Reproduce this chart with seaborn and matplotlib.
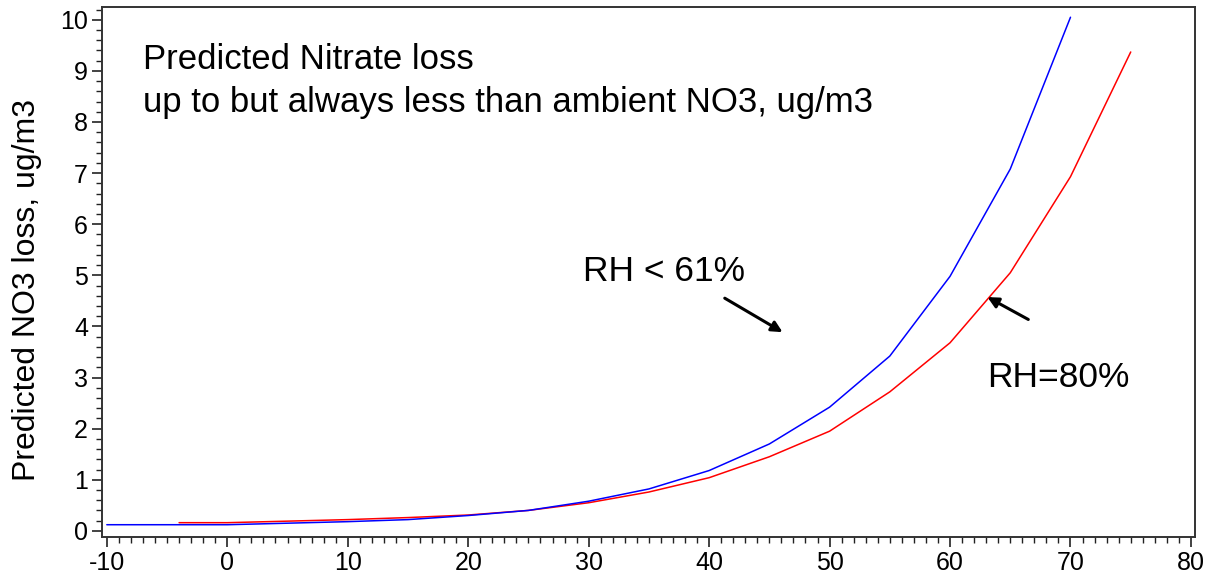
import numpy as np
import pandas as pd
import seaborn as sns
import matplotlib.pyplot as plt
from matplotlib.ticker import MultipleLocator

# Curve values
temp_low = [-10, -5, 0, 5, 10, 15, 20, 25, 30, 35, 40, 45, 50, 55, 60, 65, 70]
loss_low = [0.12, 0.12, 0.12, 0.15, 0.18, 0.22, 0.30, 0.40, 0.58, 0.82, 1.18,
            1.70, 2.42, 3.42, 4.98, 7.08, 10.05]

temp_high = [-4, 0, 5, 10, 15, 20, 25, 30, 35, 40, 45, 50, 55, 60, 65, 70, 75]
loss_high = [0.16, 0.16, 0.19, 0.22, 0.26, 0.31, 0.40, 0.55, 0.76, 1.04, 1.45,
             1.95, 2.72, 3.68, 5.05, 6.93, 9.37]

df = pd.concat([
    pd.DataFrame({"temp": temp_high, "loss": loss_high, "rh": "RH=80%"}),
    pd.DataFrame({"temp": temp_low, "loss": loss_low, "rh": "RH < 61%"}),
])

sns.set_style("ticks")
plt.rcParams['font.family'] = ['Liberation Sans', 'DejaVu Sans']
plt.rcParams['axes.unicode_minus'] = False
plt.rcParams['text.color'] = 'black'
plt.rcParams['axes.labelcolor'] = 'black'
plt.rcParams['xtick.color'] = 'black'
plt.rcParams['ytick.color'] = 'black'

fig = plt.figure(figsize=(12.07, 5.84), dpi=100)
ax = fig.add_axes([0.0845, 0.0805, 0.9055, 0.9075])

sns.lineplot(data=df, x="temp", y="loss", hue="rh",
             palette={"RH=80%": "#ff0000", "RH < 61%": "#0000ff"},
             linewidth=1.1, legend=False, ax=ax, sort=False, estimator=None)

ax.set_xlim(-10.4, 80.33)
ax.set_ylim(-0.12, 10.25)
ax.xaxis.set_major_locator(MultipleLocator(10))
ax.xaxis.set_minor_locator(MultipleLocator(1))
ax.yaxis.set_major_locator(MultipleLocator(1))
ax.yaxis.set_minor_locator(MultipleLocator(0.2))
ax.tick_params(which="major", length=7, width=1.2, labelsize=18, color="#222222", pad=3)
ax.tick_params(which="minor", length=4, width=1.0, color="#222222")
for s in ax.spines.values():
    s.set_linewidth(1.4)
    s.set_color("#333333")

ax.set_xlabel("")
ax.set_ylabel("Predicted NO3 loss, ug/m3", fontsize=23)
ax.yaxis.set_label_coords(-0.055, 0.466)

ax.text(-7.0, 9.22, "Predicted Nitrate loss", fontsize=25, va="center")
ax.text(-7.0, 8.38, "up to but always less than ambient NO3, ug/m3", fontsize=25, va="center")
ax.text(29.5, 5.07, "RH < 61%", fontsize=25.5, va="center")
ax.text(63.1, 3.01, "RH=80%", fontsize=25.5, va="center")

arrow = dict(arrowstyle="-|>", color="black", lw=2.2, mutation_scale=16)
ax.annotate("", xy=(46.3, 3.86), xytext=(41.1, 4.58), arrowprops=arrow)
ax.annotate("", xy=(62.9, 4.60), xytext=(66.7, 4.11), arrowprops=arrow)

fig.savefig("out.png", dpi=100)
